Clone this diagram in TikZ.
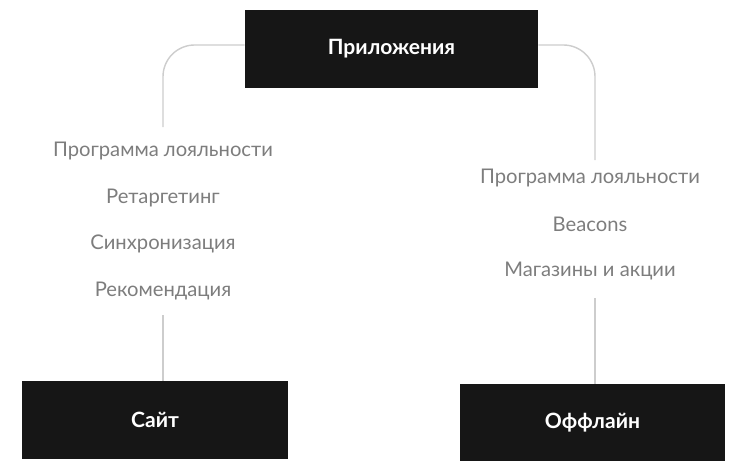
\documentclass[tikz,border=0pt]{standalone}
\usepackage{fontspec}
\setmainfont{Lato}
\usetikzlibrary{positioning}
\definecolor{boxblack}{RGB}{22,22,22}
\definecolor{txtgray}{RGB}{125,125,125}
\definecolor{linegray}{RGB}{205,205,205}
\tikzset{
  darkbox/.style={rectangle, fill=boxblack, text=white, font=\fontsize{12}{14}\selectfont\bfseries, inner sep=0pt},
  item/.style={text=txtgray, font=\fontsize{11.5}{13}\selectfont},
  link/.style={draw=linegray, line width=0.8pt, rounded corners=18pt}
}
\begin{document}
\begin{tikzpicture}[x=0.02cm, y=-0.02cm]
\useasboundingbox (0,0) rectangle (750,473);
% boxes
\node[darkbox, minimum width=5.86cm, minimum height=1.56cm] (apps) at (391.5,49) {Приложения};
\node[darkbox, minimum width=5.32cm, minimum height=1.56cm] (site) at (155,420) {Сайт};
\node[darkbox, minimum width=5.30cm, minimum height=1.54cm] (off) at (592.5,422.5) {Оффлайн};
% left column
\node[item] (l1) at (163,151) {Программа лояльности};
\node[item] (l2) at (163,198) {Ретаргетинг};
\node[item] (l3) at (163,244) {Синхронизация};
\node[item] (l4) at (163,291) {Рекомендация};
% right column
\node[item] (r1) at (590,178) {Программа лояльности};
\node[item] (r2) at (590,224) {Beacons};
\node[item] (r3) at (590,271) {Магазины и акции};
% connectors
\coordinate (lt) at (163,127);
\coordinate (rt) at (595,160);
\draw[link] (apps.west |- 0,45) -| (lt);
\draw[link] (apps.east |- 0,45) -| (rt);
\draw[link] (163,315) -- (site.north -| 163,0);
\draw[link] (595,298) -- (off.north -| 595,0);
\end{tikzpicture}
\end{document}
